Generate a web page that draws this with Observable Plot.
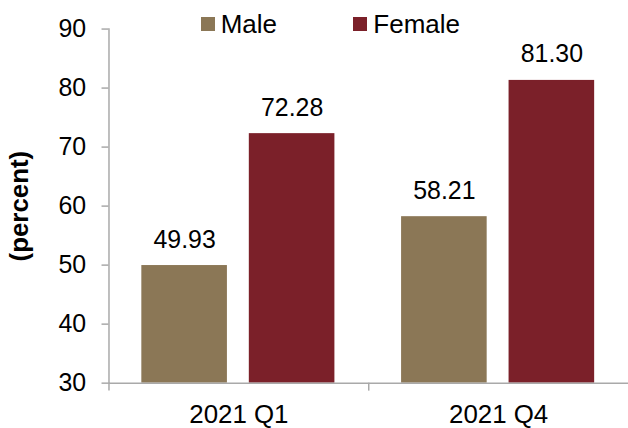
<!DOCTYPE html>
<html>
<head>
<meta charset="utf-8">
<script src="https://cdn.jsdelivr.net/npm/d3@7"></script>
<script src="https://cdn.jsdelivr.net/npm/@observablehq/plot@0.6"></script>
<style>
  html, body { margin: 0; padding: 0; background: #fff; overflow: hidden; }
  #wrap { position: relative; width: 628px; height: 428px; overflow: hidden; font-family: "Liberation Sans", Arial, sans-serif; }
  #legend { position: absolute; left: 200.7px; top: 11px; display: flex; align-items: center; font-size: 26px; line-height: 26px; color: #000; }
  #legend .item { display: flex; align-items: center; margin-right: 76.3px; }
  #legend .sw { width: 14px; height: 14px; margin-right: 6px; display: inline-block; }
  g[aria-label="y-axis label"] { font-size: 26px; font-weight: bold; }
  g[aria-label="y-axis tick label"] { font-size: 25px; }
  g[aria-label="fx-axis tick label"] { font-size: 26px; }
</style>
</head>
<body>
<div id="wrap"><div id="chart"></div><div id="legend"></div></div>
<script>
const quarters = ["2021 Q1", "2021 Q4"];
const series = ["Male", "Female"];
const maleValues = [49.93, 58.21];
const femaleValues = [72.28, 81.30];
const yTicks = [30, 40, 50, 60, 70, 80, 90];
const seriesColors = ["#8b7756", "#7b2029"];
const yLabel = "(percent)";

const data = quarters.flatMap((q, i) => [
  {quarter: q, sex: series[0], value: maleValues[i]},
  {quarter: q, sex: series[1], value: femaleValues[i]}
]);

const W = 631, H = 428, ML = 109, MR = 0, MT = 28.7, MB = 43.5;
const axisGray = "#a9a9a9";
const halfBand = (W - ML - MR) / quarters.length / 2;

const chart = Plot.plot({
  width: W,
  height: H,
  marginLeft: ML,
  marginRight: MR,
  marginTop: MT,
  marginBottom: MB,
  style: {fontFamily: "'Liberation Sans', Arial, sans-serif", background: "white", color: "#000", overflow: "visible"},
  fx: {domain: quarters, padding: 0, label: null},
  x: {domain: series, paddingInner: 0.203, paddingOuter: 0.304, axis: null},
  y: {domain: [30, 90], label: null},
  color: {domain: series, range: seriesColors},
  marks: [
    Plot.barY(data, {fx: "quarter", x: "sex", y1: 30, y2: "value", fill: "sex"}),
    Plot.text(data, {fx: "quarter", x: "sex", y: "value", text: d => d.value.toFixed(2), dy: -18, lineAnchor: "bottom", fontSize: 25, fill: "#000"}),
    Plot.ruleY([30], {stroke: axisGray, strokeWidth: 1.5}),
    Plot.frame({anchor: "left", facetAnchor: "left", stroke: axisGray, strokeWidth: 1.5}),
    Plot.axisY({ticks: yTicks, tickSize: 7, tickPadding: 16, fontSize: 25, stroke: axisGray, strokeWidth: 1.5, label: yLabel, labelArrow: "none", labelAnchor: "center", labelOffset: 100}),
    Plot.axisFx({anchor: "bottom", tickSize: 0, tickPadding: 21.5, fontSize: 26, label: null}),
    Plot.axisFx({anchor: "bottom", tickSize: 8, text: null, label: null, dx: -halfBand, stroke: axisGray, strokeWidth: 1.5})
  ]
});
document.getElementById("chart").appendChild(chart);

const legend = document.getElementById("legend");
series.forEach((s, i) => {
  const item = document.createElement("span");
  item.className = "item";
  const sw = document.createElement("span");
  sw.className = "sw";
  sw.style.background = seriesColors[i];
  const t = document.createElement("span");
  t.textContent = s;
  item.appendChild(sw);
  item.appendChild(t);
  legend.appendChild(item);
});
</script>
</body>
</html>
